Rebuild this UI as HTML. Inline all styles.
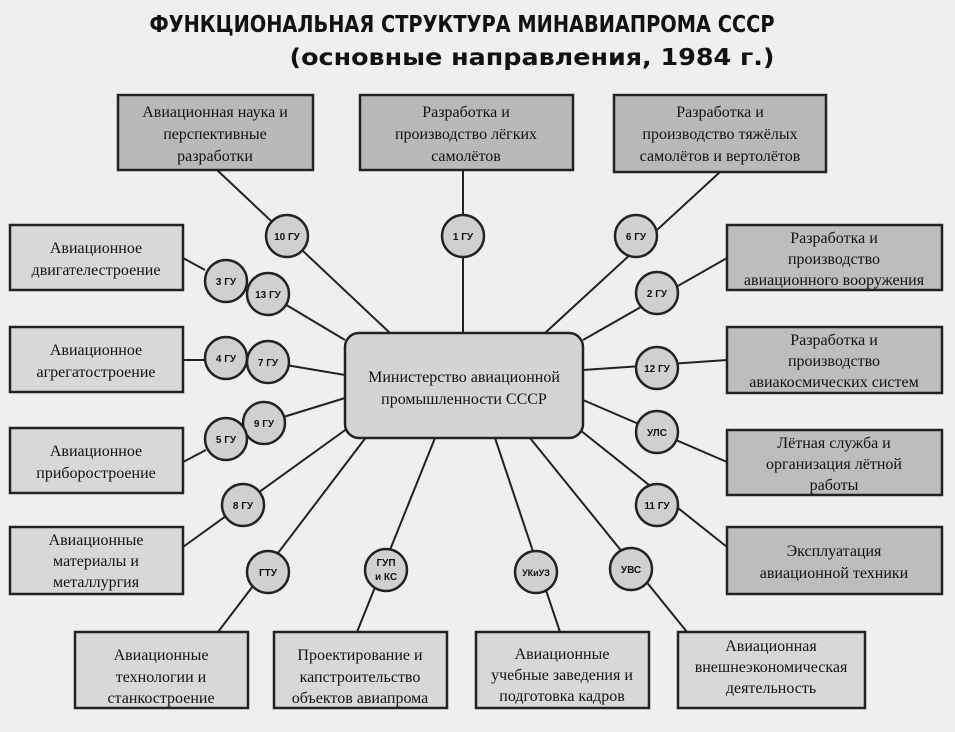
<!DOCTYPE html>
<html><head><meta charset="utf-8"><style>
html,body{margin:0;padding:0;background:#efefef;}
svg{display:block}
.t{font-family:"Liberation Serif","DejaVu Serif",serif;font-size:16px;fill:#111;text-anchor:middle}
.c{font-family:"Liberation Sans",sans-serif;font-size:10px;font-weight:bold;fill:#111;text-anchor:middle}
.h{font-family:"DejaVu Sans","Liberation Sans",sans-serif;font-size:23px;font-weight:bold;fill:#111;text-anchor:middle}
</style></head><body>
<svg width="955" height="732" viewBox="0 0 955 732" xmlns="http://www.w3.org/2000/svg">
<rect width="955" height="732" fill="#efefef"/>
<text class="h" x="462" y="32" textLength="625" lengthAdjust="spacingAndGlyphs">ФУНКЦИОНАЛЬНАЯ СТРУКТУРА МИНАВИАПРОМА СССР</text>
<text class="h" x="532" y="65" textLength="485" lengthAdjust="spacingAndGlyphs">(основные направления, 1984 г.)</text>
<g stroke="#222" stroke-width="2" fill="none">
<line x1="217" y1="170" x2="390" y2="333"/>
<line x1="463" y1="170" x2="463" y2="333"/>
<line x1="720" y1="172" x2="545" y2="333"/>
<line x1="183" y1="258" x2="205" y2="270"/>
<line x1="268" y1="294" x2="345" y2="340"/>
<line x1="183" y1="360" x2="205" y2="360"/>
<line x1="268" y1="362" x2="345" y2="375"/>
<line x1="183" y1="462" x2="206" y2="450"/>
<line x1="264" y1="423" x2="345" y2="398"/>
<line x1="183" y1="547" x2="348" y2="428"/>
<line x1="218" y1="632" x2="370" y2="432"/>
<line x1="357" y1="632" x2="435" y2="438"/>
<line x1="560" y1="632" x2="495" y2="438"/>
<line x1="687" y1="632" x2="530" y2="438"/>
<line x1="727" y1="547" x2="580" y2="430"/>
<line x1="727" y1="462" x2="583" y2="400"/>
<line x1="727" y1="360" x2="583" y2="370"/>
<line x1="727" y1="258" x2="583" y2="340"/>
</g>
<g stroke="#222" stroke-width="2.5">
<rect x="118" y="95" width="195" height="75" fill="#b9b9b9"/>
<rect x="360" y="95" width="213" height="75" fill="#b9b9b9"/>
<rect x="614" y="95" width="212" height="77" fill="#b9b9b9"/>
<rect x="10" y="225" width="173" height="65" fill="#d8d8d8"/>
<rect x="10" y="327" width="173" height="65" fill="#d8d8d8"/>
<rect x="10" y="428" width="173" height="65" fill="#d8d8d8"/>
<rect x="10" y="527" width="173" height="67" fill="#d8d8d8"/>
<rect x="727" y="225" width="215" height="65" fill="#bdbdbd"/>
<rect x="727" y="327" width="215" height="66" fill="#bdbdbd"/>
<rect x="727" y="430" width="215" height="65" fill="#bdbdbd"/>
<rect x="727" y="527" width="215" height="67" fill="#bdbdbd"/>
<rect x="75" y="632" width="173" height="76" fill="#d8d8d8"/>
<rect x="274" y="632" width="173" height="76" fill="#d8d8d8"/>
<rect x="476" y="632" width="173" height="76" fill="#d8d8d8"/>
<rect x="678" y="632" width="187" height="76" fill="#d8d8d8"/>
<rect x="345" y="333" width="238" height="105" rx="14" fill="#d4d4d4"/>
</g>
<g stroke="#222" stroke-width="2.5" fill="#d0d0d0">
<circle cx="287" cy="236" r="21"/><circle cx="463" cy="236" r="21"/><circle cx="636" cy="236" r="21"/>
<circle cx="226" cy="281" r="21"/><circle cx="268" cy="294" r="21"/>
<circle cx="226" cy="358" r="21"/><circle cx="268" cy="362" r="21"/>
<circle cx="264" cy="423" r="21"/><circle cx="226" cy="439" r="21"/>
<circle cx="243" cy="505" r="21"/>
<circle cx="268" cy="572" r="21"/><circle cx="386" cy="570" r="21"/>
<circle cx="536" cy="572" r="21"/><circle cx="631" cy="569" r="21"/>
<circle cx="657" cy="293" r="21"/><circle cx="657" cy="368" r="21"/>
<circle cx="657" cy="432" r="21"/><circle cx="657" cy="505" r="21"/>
</g>
<g>
<text class="c" x="287" y="240">10 ГУ</text><text class="c" x="463" y="240">1 ГУ</text><text class="c" x="636" y="240">6 ГУ</text>
<text class="c" x="226" y="285">3 ГУ</text><text class="c" x="268" y="298">13 ГУ</text>
<text class="c" x="226" y="362">4 ГУ</text><text class="c" x="268" y="366">7 ГУ</text>
<text class="c" x="264" y="427">9 ГУ</text><text class="c" x="226" y="443">5 ГУ</text>
<text class="c" x="243" y="509">8 ГУ</text>
<text class="c" x="268" y="576">ГТУ</text>
<text class="c" x="386" y="566">ГУП</text><text class="c" x="386" y="580">и КС</text>
<text class="c" x="536" y="576" style="font-size:9px">УКиУЗ</text><text class="c" x="631" y="573">УВС</text>
<text class="c" x="657" y="297">2 ГУ</text><text class="c" x="657" y="372">12 ГУ</text>
<text class="c" x="657" y="436">УЛС</text><text class="c" x="657" y="509">11 ГУ</text>
</g>
<g>
<text class="t" x="215" y="117">Авиационная наука и</text><text class="t" x="215" y="139">перспективные</text><text class="t" x="215" y="161">разработки</text>
<text class="t" x="466" y="117">Разработка и</text><text class="t" x="466" y="139">производство лёгких</text><text class="t" x="466" y="161">самолётов</text>
<text class="t" x="720" y="117">Разработка и</text><text class="t" x="720" y="139">производство тяжёлых</text><text class="t" x="720" y="161">самолётов и вертолётов</text>
<text class="t" x="96" y="253">Авиационное</text><text class="t" x="96" y="275">двигателестроение</text>
<text class="t" x="96" y="355">Авиационное</text><text class="t" x="96" y="377">агрегатостроение</text>
<text class="t" x="96" y="456">Авиационное</text><text class="t" x="96" y="478">приборостроение</text>
<text class="t" x="96" y="545">Авиационные</text><text class="t" x="96" y="566">материалы и</text><text class="t" x="96" y="587">металлургия</text>
<text class="t" x="834" y="243">Разработка и</text><text class="t" x="834" y="264">производство</text><text class="t" x="834" y="285">авиационного вооружения</text>
<text class="t" x="834" y="345">Разработка и</text><text class="t" x="834" y="366">производство</text><text class="t" x="834" y="387">авиакосмических систем</text>
<text class="t" x="834" y="448">Лётная служба и</text><text class="t" x="834" y="469">организация лётной</text><text class="t" x="834" y="490">работы</text>
<text class="t" x="834" y="556">Эксплуатация</text><text class="t" x="834" y="578">авиационной техники</text>
<text class="t" x="161" y="660">Авиационные</text><text class="t" x="161" y="682">технологии и</text><text class="t" x="161" y="703">станкостроение</text>
<text class="t" x="360" y="660">Проектирование и</text><text class="t" x="360" y="682">капстроительство</text><text class="t" x="360" y="703">объектов авиапрома</text>
<text class="t" x="562" y="659">Авиационные</text><text class="t" x="562" y="680">учебные заведения и</text><text class="t" x="562" y="701">подготовка кадров</text>
<text class="t" x="771" y="651">Авиационная</text><text class="t" x="771" y="672">внешнеэкономическая</text><text class="t" x="771" y="693">деятельность</text>
<text class="t" x="464" y="382">Министерство авиационной</text><text class="t" x="464" y="404">промышленности СССР</text>
</g>
</svg>
</body></html>
